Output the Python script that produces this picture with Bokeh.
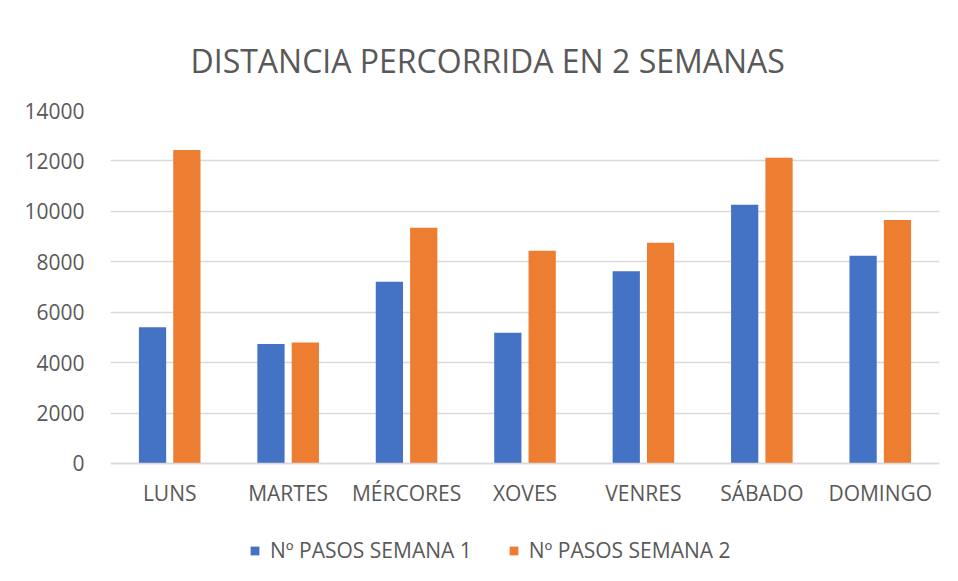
from bokeh.plotting import figure
from bokeh.models import FactorRange, Range1d, FixedTicker, Legend, LegendItem, ColumnDataSource
from bokeh.transform import dodge
from bokeh.embed import file_html
from bokeh.resources import INLINE

days = ["LUNS", "MARTES", "MÉRCORES", "XOVES", "VENRES", "SÁBADO", "DOMINGO"]
semana1 = [5400, 4740, 7210, 5190, 7620, 10260, 8240]
semana2 = [12430, 4800, 9350, 8440, 8750, 12130, 9660]
series_names = ["Nº PASOS SEMANA 1", "Nº PASOS SEMANA 2"]
y_ticks = [0, 2000, 4000, 6000, 8000, 10000, 12000, 14000]
colors = ["#4472C4", "#ED7D31"]

source = ColumnDataSource(data=dict(day=days, s1=semana1, s2=semana2))

FONT = "Open Sans"
TXT = "#595959"

# the frame extends below zero to hold the legend (Excel-like layout)
p = figure(
    frame_width=829, frame_height=463,
    x_range=FactorRange(*days, range_padding=0),
    y_range=Range1d(-4363, 14000),
    output_backend="svg", toolbar_location=None,
    min_border_left=110, min_border_right=11,
    min_border_top=110, min_border_bottom=0,
)

p.title.text = "DISTANCIA PERCORRIDA EN 2 SEMANAS"
p.title.align = "left"
p.title.offset = 80
p.title.text_font = FONT
p.title.text_font_size = "32px"
p.title.text_font_style = "normal"
p.title.text_color = TXT
p.title.standoff = 58

r1 = p.vbar(x=dodge("day", -0.145, range=p.x_range), top="s1", width=0.23,
            source=source, fill_color=colors[0], line_color=None)
r2 = p.vbar(x=dodge("day", 0.145, range=p.x_range), top="s2", width=0.23,
            source=source, fill_color=colors[1], line_color=None)

p.outline_line_color = None
p.xgrid.grid_line_color = None
p.ygrid.grid_line_color = "#d9d9d9"
p.ygrid.grid_line_width = 1.5

p.yaxis.ticker = FixedTicker(ticks=y_ticks)
p.yaxis.axis_line_color = None
p.yaxis.major_tick_line_color = None
p.yaxis.minor_tick_line_color = None
p.yaxis.major_label_text_font = FONT
p.yaxis.major_label_text_font_size = "21px"
p.yaxis.major_label_text_color = TXT
p.yaxis.major_label_standoff = 20

p.xaxis.fixed_location = 0
p.xaxis.axis_line_color = "#d9d9d9"
p.xaxis.axis_line_width = 1.5
p.xaxis.major_tick_line_color = None
p.xaxis.minor_tick_line_color = None
p.xaxis.major_label_text_font = FONT
p.xaxis.major_label_text_font_size = "21px"
p.xaxis.major_label_text_color = TXT
p.xaxis.major_label_standoff = 10

legend = Legend(
    items=[LegendItem(label=series_names[0], renderers=[r1]),
           LegendItem(label=series_names[1], renderers=[r2])],
    orientation="horizontal", location=(139, 9),
    label_text_font=FONT, label_text_font_size="21px", label_text_color=TXT,
    glyph_width=11, glyph_height=11, spacing=36, label_standoff=10,
    border_line_color=None, background_fill_alpha=0, padding=4, margin=0,
)
p.add_layout(legend)

open("out.html", "w").write(file_html(p, INLINE))
